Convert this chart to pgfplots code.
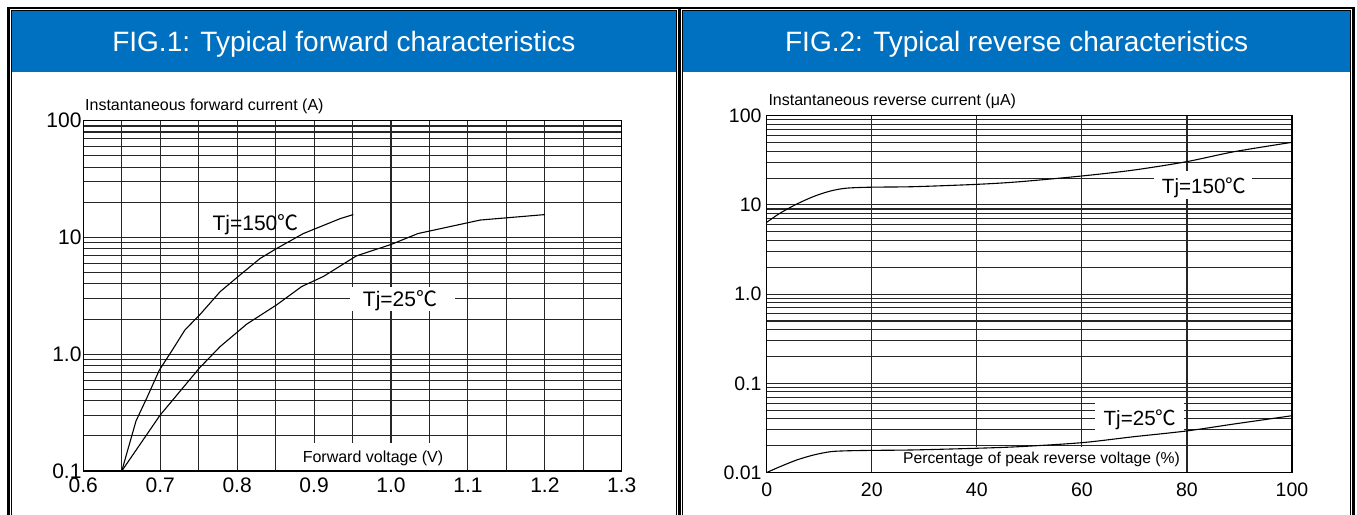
\documentclass[border=0pt]{standalone}
\usepackage{fontspec}
\setmainfont{Liberation Sans}
\newfontfamily\cjk{Noto Sans CJK SC}
\usepackage{pgfplots}
\pgfplotsset{compat=1.18}
\definecolor{barblue}{RGB}{0,112,192}
\newcommand{\degC}{{\cjk ℃}}
\pgfplotsset{
  chartbase/.style={
    scale only axis, anchor=south west,
    grid=both,
    major grid style={line width=1.1bp, black!85},
    minor grid style={line width=1.1bp, black!85},
    axis line style={line width=1.3bp, black},
    tick style={draw=none},
    major tick length=0pt, minor tick length=0pt,
    yticklabel style={inner sep=0pt, anchor=east},
    xticklabel style={inner sep=0pt, anchor=north},
  }
}
\begin{document}
\begin{tikzpicture}
\path[use as bounding box] (0,0) rectangle (1357bp,515bp);
\begin{scope}[x=1bp,y=1bp]
\fill[barblue] (11.3,503.7) rectangle (676.5,443.3);
\fill[barblue] (682.8,503.7) rectangle (1350.5,443.3);
\draw[line width=1bp] (11.3,-2) -- (11.3,504.2) -- (676.5,504.2) -- (676.5,-2);
\draw[line width=1bp] (682.8,-2) -- (682.8,504.2) -- (1350.5,504.2) -- (1350.5,-2);
\draw[line width=2.6bp] (8.6,-2) -- (8.6,507) -- (1353.3,507) -- (1353.3,-2);
\draw[line width=2.6bp] (679.7,-2) -- (679.7,507);
\node[anchor=base, text=white, font=\fontsize{28bp}{32bp}\selectfont, inner sep=0pt] at (343.9,463.3) {FIG.1: Typical forward characteristics};
\node[anchor=base, text=white, font=\fontsize{28bp}{32bp}\selectfont, inner sep=0pt] at (1016.7,463.3) {FIG.2: Typical reverse characteristics};
\end{scope}

\begin{axis}[ymode=log, chartbase, at={(83.3bp,44bp)}, width=538.5bp, height=350.3bp,
  xmin=0.6, xmax=1.3, ymin=0.1, ymax=100,
  xtick={0.6,0.7,0.8,0.9,1.0,1.1,1.2,1.3},
  xticklabels={0.6,0.7,0.8,0.9,1.0,1.1,1.2,1.3},
  minor xtick={0.65,0.75,0.85,0.95,1.05,1.15,1.25},
  ytick={0.1,1,10,100}, yticklabels={0.1,1.0,10,100},
  minor ytick={0.2,0.3,0.4,0.5,0.6,0.7,0.8,0.9,2,3,4,5,6,7,8,9,20,30,40,50,60,70,80,90},
  xticklabel style={font=\fontsize{21bp}{24bp}\selectfont, yshift=-6.5bp},
  yticklabel style={font=\fontsize{21bp}{24bp}\selectfont, xshift=-1.6bp},
]
\fill[white] (axis cs:0.8817,0.1025) rectangle (axis cs:1.0715,0.1738);
\fill[white] (axis cs:0.9467,2.35) rectangle (axis cs:1.083,3.77);
\addplot[line width=1.1bp, black] coordinates {
 (0.65,0.1) (0.6685,0.268) (0.6824,0.42) (0.6988,0.73) (0.717,1.12) (0.732,1.61)
 (0.752,2.2) (0.778,3.44) (0.804,4.79) (0.8297,6.6) (0.8514,8.05) (0.886,10.8)
 (0.934,14.5) (0.951,15.7)};
\addplot[line width=1.1bp, black] coordinates {
 (0.65,0.1) (0.6997,0.30) (0.7508,0.76) (0.7777,1.16) (0.8124,1.81) (0.8514,2.65)
 (0.8839,3.8) (0.912,4.63) (0.934,5.7) (0.955,6.95) (1.001,8.76) (1.035,10.8)
 (1.116,14.1) (1.2,15.7)};
\end{axis}

\begin{axis}[ymode=log, chartbase, at={(766.7bp,42.5bp)}, width=525.3bp, height=356.8bp,
  xmin=0, xmax=100, ymin=0.01, ymax=100,
  xtick={0,20,40,60,80,100}, xticklabels={0,20,40,60,80,100},
  ytick={0.01,0.1,1,10,100}, yticklabels={0.01,0.1,1.0,10,100},
  minor ytick={0.02,0.03,0.04,0.05,0.06,0.07,0.08,0.09,0.2,0.3,0.4,0.5,0.6,0.7,0.8,0.9,2,3,4,5,6,7,8,9,20,30,40,50,60,70,80,90},
  xticklabel style={font=\fontsize{19.5bp}{22bp}\selectfont, yshift=-9.8bp},
  yticklabel style={font=\fontsize{19.5bp}{22bp}\selectfont, xshift=-5bp},
]
\fill[white] (axis cs:73.7,11.65) rectangle (axis cs:92.4,24.0);
\fill[white] (axis cs:62.5,0.0299) rectangle (axis cs:79.4,0.0617);
\fill[white] (axis cs:25.4,0.01026) rectangle (axis cs:79.1,0.0195);
\addplot[line width=1.1bp, black, smooth] coordinates {
 (0,6.38) (2.5,8.05) (5.7,10.2) (8.9,12.4) (12.1,14.3) (15.2,15.4) (20,15.8)
 (27.9,16.0) (40,17.0) (48.2,18.2) (60,21.1) (69.9,24.6) (79.9,30.5) (89,39.5) (100,50.3)};
\addplot[line width=1.1bp, black, smooth] coordinates {
 (0,0.01) (2.5,0.0116) (5.7,0.0138) (8.9,0.0157) (12.1,0.0171) (15.2,0.0175) (20,0.0177)
 (27.9,0.0179) (40,0.0187) (48.2,0.0195) (60,0.0216) (69.9,0.0252) (79.9,0.0292) (89,0.035) (100,0.0433)};
\end{axis}

\begin{scope}[x=1bp,y=1bp]
\node[anchor=base west, inner sep=0pt, font=\fontsize{16bp}{19bp}\selectfont] at (85,404.5) {Instantaneous forward current (A)};
\node[anchor=base west, inner sep=0pt, font=\fontsize{16bp}{19bp}\selectfont] at (768.3,409.3) {Instantaneous reverse current (μA)};
\node[anchor=base, inner sep=0pt, font=\fontsize{16bp}{19bp}\selectfont] at (373,53) {Forward voltage (V)};
\node[anchor=base, inner sep=0pt, font=\fontsize{15.7bp}{19bp}\selectfont] at (1041.5,51.2) {Percentage of peak reverse voltage (\%)};
\node[anchor=base, inner sep=0pt, font=\fontsize{21bp}{24bp}\selectfont] at (255.5,285) {Tj=150\degC};
\node[anchor=base, inner sep=0pt, font=\fontsize{21bp}{24bp}\selectfont] at (400,208.3) {Tj=25\degC};
\node[anchor=base, inner sep=0pt, font=\fontsize{20.6bp}{24bp}\selectfont] at (1204,321.7) {Tj=150\degC};
\node[anchor=base, inner sep=0pt, font=\fontsize{20.6bp}{24bp}\selectfont] at (1140,90) {Tj=25\degC};
\end{scope}
\end{tikzpicture}
\end{document}
